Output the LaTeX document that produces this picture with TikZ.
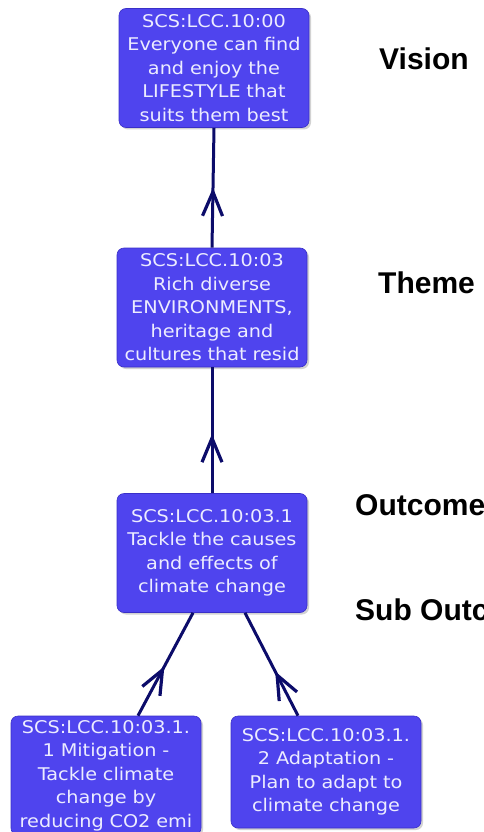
\documentclass[tikz,border=0pt]{standalone}
\usepackage{fontspec}
\setmainfont{Liberation Sans}
\newfontfamily\boxfont[FakeStretch=1.1]{DejaVu Sans}
\usetikzlibrary{arrows.meta,decorations.markings,shadows}

\definecolor{boxblue}{HTML}{4F44EE}
\definecolor{boxedge}{HTML}{3A30C8}
\definecolor{boxtext}{HTML}{ECECFF}
\definecolor{linkblue}{HTML}{0C0C6A}

\begin{document}
\begin{tikzpicture}[x=1pt,y=-1pt,
  goal/.style={rounded corners=7pt, fill=boxblue, draw=boxedge, line width=0.6pt,
    text=boxtext, minimum width=190pt, minimum height=119pt, inner sep=0pt,
    align=center, text width=188pt,
    font=\boxfont\fontsize{17.5}{23.5}\selectfont,
    drop shadow={shadow xshift=2pt, shadow yshift=-2pt, fill=black!35, opacity=0.5}},
  levelname/.style={font=\bfseries\fontsize{30}{32}\selectfont, anchor=base west, inner sep=0pt},
  link/.style={draw=linkblue, line width=3pt, postaction={decorate},
    decoration={markings, mark=at position #1 with
      {\arrow{Straight Barb[length=24pt,width=20pt,line width=3.2pt]}}}},
  link/.default=0.5,
]
\useasboundingbox (0,0) rectangle (484,832);

% goal boxes
\node[goal] (vision) at (214,68)
  {SCS:LCC.10:00\\Everyone can find\\and enjoy the\\LIFESTYLE that\\suits them best};
\node[goal] (theme) at (212,307.5)
  {SCS:LCC.10:03\\Rich diverse\\ENVIRONMENTS,\\heritage and\\cultures that resid};
\node[goal] (outcome) at (212,553)
  {SCS:LCC.10:03.1\\Tackle the causes\\and effects of\\climate change};
\node[goal] (mitigation) at (106,775.5)
  {SCS:LCC.10:03.1.\\1 Mitigation -\\Tackle climate\\change by\\reducing CO2 emi};
\node[goal, minimum height=112pt] (adaptation) at (326,772)
  {SCS:LCC.10:03.1.\\2 Adaptation -\\Plan to adapt to\\climate change};

% links from each goal up to its parent
\draw[link=0.5] (theme.north) -- (vision.south);
\draw[link=0.47] (outcome.north) -- (theme.south);
\draw[link=0.48] ([xshift=32pt]mitigation.north) -- ([xshift=-19pt]outcome.south);
\draw[link=0.43] ([xshift=-28pt]adaptation.north) -- ([xshift=33pt]outcome.south);

% level names
\node[levelname] (lvision) at (379,70) {Vision};
\node[levelname] (ltheme) at (378,293) {Theme};
\node[levelname] (loutcome) at (355,515) {Outcome};
\node[levelname] (lsub) at (355,620) {Sub Outcome};
\end{tikzpicture}
\end{document}
